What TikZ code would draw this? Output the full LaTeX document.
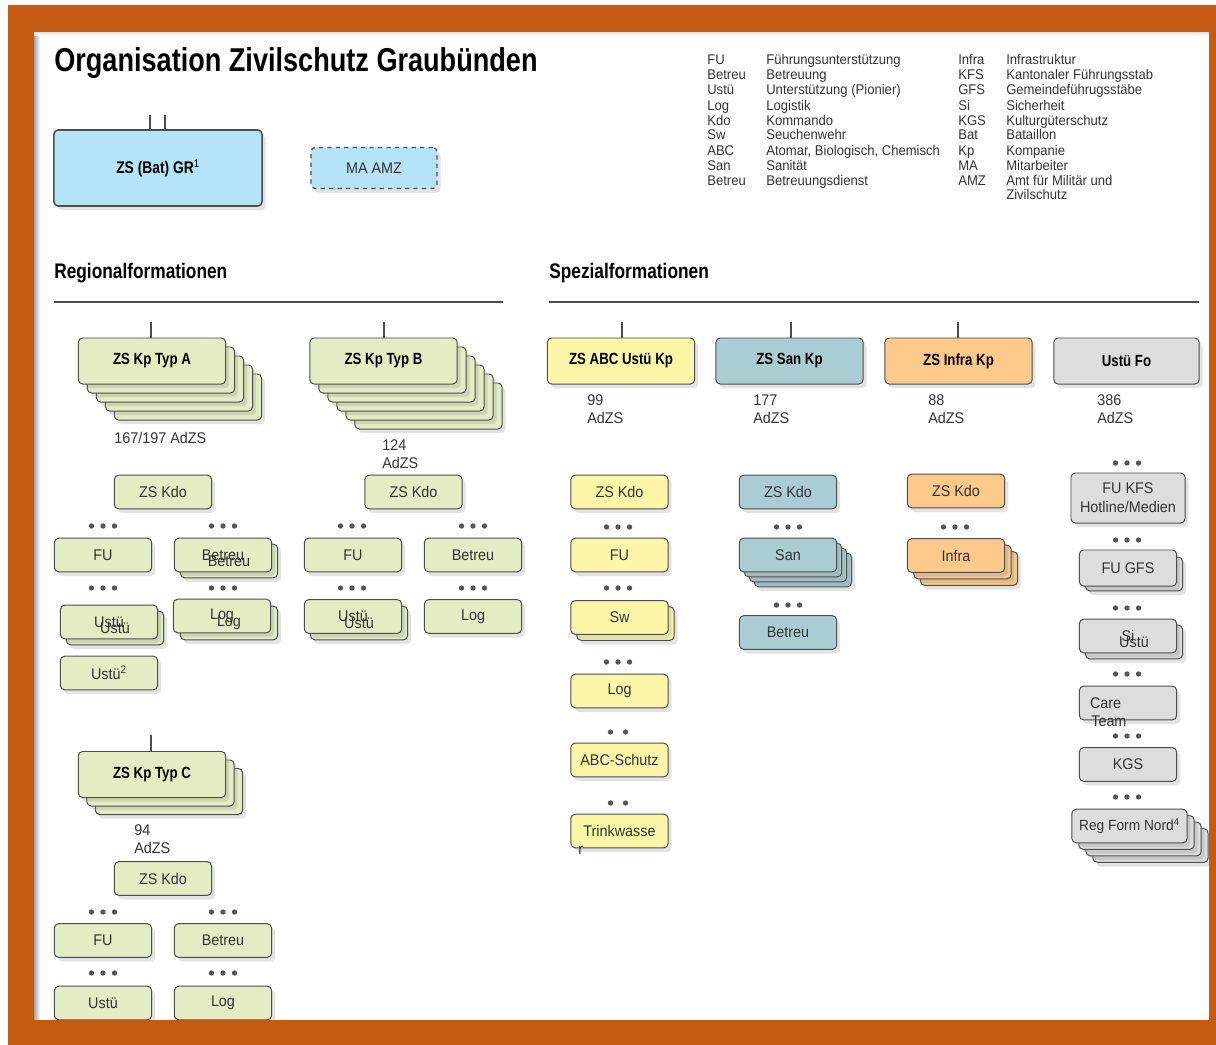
\documentclass[tikz,border=0pt]{standalone}
\usepackage{fontspec}
\setmainfont{Liberation Sans}[FakeStretch=0.93]
\newfontfamily\hdfont{Liberation Sans}[FakeStretch=0.82]
\usetikzlibrary{shadows,positioning}

\definecolor{zsorange}{HTML}{C55A12}
\definecolor{zsblue}{HTML}{B5E3F8}
\definecolor{zsgreen}{HTML}{E3ECC2}
\definecolor{zsyellow}{HTML}{FDF6A8}
\definecolor{zssan}{HTML}{AACDD4}
\definecolor{zsinfra}{HTML}{FDCA8C}
\definecolor{zsgray}{HTML}{DDDDDD}
\definecolor{zsline}{HTML}{4D4D4D}
\definecolor{zstext}{HTML}{333333}
\definecolor{zsdots}{HTML}{555555}

\begin{document}
\begin{tikzpicture}[x=0.025cm,y=-0.025cm,
    card/.style={draw=zsline, line width=0.7pt, rounded corners=3pt, inner sep=1pt,
      minimum width=2.43cm, minimum height=0.84cm, text=zstext,
      font=\fontsize{11}{13}\selectfont,
      drop shadow={opacity=0.22, shadow xshift=2.5pt, shadow yshift=-3pt}},
    headcard/.style={card, minimum width=3.68cm, minimum height=1.15cm, text=black,
      font=\hdfont\bfseries\fontsize{11.5}{13}\selectfont},
    grn/.style={card, fill=zsgreen},
    grnhead/.style={headcard, fill=zsgreen},
    yel/.style={card, fill=zsyellow},
    yelhead/.style={headcard, fill=zsyellow},
    san/.style={card, fill=zssan},
    sanhead/.style={headcard, fill=zssan},
    inf/.style={card, fill=zsinfra},
    infhead/.style={headcard, fill=zsinfra},
    gry/.style={card, fill=zsgray},
    gryhead/.style={headcard, fill=zsgray},
    ghost/.style={inner sep=0pt, text=zstext, font=\fontsize{11}{13}\selectfont},
    adzs/.style={anchor=west, align=left, inner sep=0pt, text=zstext,
      font=\fontsize{11}{12.8}\selectfont},
    legend/.style={anchor=base west, inner sep=0pt, text=zstext,
      font=\fontsize{10}{11}\selectfont},
    sechead/.style={anchor=base west, inner sep=0pt, text=black,
      font=\hdfont\bfseries\fontsize{15}{17}\selectfont},
    secline/.style={draw=zsline, line width=1pt},
    stem/.style={draw=zsline, line width=0.8pt}]

\useasboundingbox[fill=white] (0,0) rectangle (1216,1045);
\shade[left color=black!35, right color=white] (34,32) rectangle (40,1020);
\shade[top color=black!12, bottom color=white] (34,32) rectangle (1209,36);

% title and legend
\node[anchor=base west, inner sep=0pt, text=black,
  font=\hdfont\bfseries\fontsize{23.5}{26}\selectfont] (title) at (54,72)
  {Organisation Zivilschutz Graubünden};
\foreach \ab/\txt [count=\i] in {FU/Führungsunterstützung, Betreu/Betreuung,
    Ustü/Unterstützung (Pionier), Log/Logistik, Kdo/Kommando, Sw/Seuchenwehr,
    ABC/{Atomar, Biologisch, Chemisch}, San/Sanität, Betreu/Betreuungsdienst} {
  \node[legend] (la\i) at (707,50+15*\i) {\ab};
  \node[legend] (lt\i) at (766,50+15*\i) {\txt};
}
\foreach \ab/\txt [count=\i] in {Infra/Infrastruktur, KFS/Kantonaler Führungsstab,
    GFS/Gemeindeführugsstäbe, Si/Sicherheit, KGS/Kulturgüterschutz, Bat/Bataillon,
    Kp/Kompanie, MA/Mitarbeiter, AMZ/Amt für Militär und} {
  \node[legend] (lb\i) at (958,50+15*\i) {\ab};
  \node[legend] (lu\i) at (1006,50+15*\i) {\txt};
}
\node[legend] (lu10) at (1006,199) {Zivilschutz};

% top level
\node[card, fill=zsblue, line width=1.1pt, minimum width=5.2cm, minimum height=1.9cm,
  text=black, font=\hdfont\bfseries\fontsize{12}{14}\selectfont] (gr) at (158,168)
  {ZS (Bat) GR\textsuperscript{\mdseries 1}};
\coordinate (grL) at (150,115);
\coordinate (grR) at (165,115);
\draw[stem] (grL) -- (grL |- gr.north);
\draw[stem] (grR) -- (grR |- gr.north);
\node[card, fill=zsblue, dashed, line width=0.9pt, minimum width=3.15cm,
  minimum height=1.03cm] (ma) at (374,168) {MA AMZ};

\node[sechead] (reg) at (54,278) {Regionalformationen};
\node[sechead] (spz) at (549,278) {Spezialformationen};
\draw[secline] (54,302) -- (503,302);
\draw[secline] (549,302) -- (1199,302);

% Typ A
\coordinate (tAtop) at (151,322);
\foreach \k in {4,3,2,1} \node[grnhead] (tA\k) at (152+9*\k,361+9*\k) {};
\node[grnhead] (tA) at (152,361) {ZS Kp Typ A};
\draw[stem] (tAtop) -- (tAtop |- tA.north);
\node[adzs] (nA) at (114,438) {167/197 AdZS};
\node[grn] (kdoA) at (163,492) {ZS Kdo};
\node[grn] (fuA) at (103,555) {FU};
\node[grn] (betA1) at (229,561) {Betreu};
\node[grn] (betA) at (223,555) {Betreu};
\node[ghost] (betA1t) at (betA1) {Betreu};
\node[grn] (ustA1) at (115,628) {Ustü};
\node[grn] (ustA) at (109,622) {Ustü};
\node[ghost] (ustA1t) at (ustA1) {Ustü};
\node[grn] (logA1) at (229,623) {Log};
\node[grn] (logA) at (222,616) {Log};
\node[ghost] (logA1t) at (logA1) {Log};
\node[grn] (ustAz) at (109,673) {Ustü\textsuperscript{2}};

% Typ B
\coordinate (tBtop) at (384,322);
\foreach \k in {5,...,1} \node[grnhead] (tB\k) at (383.5+9*\k,361+9*\k) {};
\node[grnhead] (tB) at (383.5,361) {ZS Kp Typ B};
\draw[stem] (tBtop) -- (tBtop |- tB.north);
\node[adzs] (nB) at (382,454) {124\\AdZS};
\node[grn] (kdoB) at (413.5,492) {ZS Kdo};
\node[grn] (fuB) at (353,555) {FU};
\node[grn] (betB) at (473,555) {Betreu};
\node[grn] (ustB1) at (359,623) {Ustü};
\node[grn] (ustB) at (353,616.5) {Ustü};
\node[ghost] (ustB1t) at (ustB1) {Ustü};
\node[grn] (logB) at (473,616.5) {Log};

% Typ C
\coordinate (tCtop) at (151,735);
\foreach \k in {2,1} \node[grnhead] (tC\k) at (152+8.5*\k,774.5+8.5*\k) {};
\node[grnhead] (tC) at (152,774.5) {ZS Kp Typ C};
\draw[stem] (tCtop) -- (tCtop |- tC.north);
\node[adzs] (nC) at (134,839.5) {94\\AdZS};
\node[grn] (kdoC) at (163,878.5) {ZS Kdo};
\node[grn] (fuC) at (103,940.5) {FU};
\node[grn] (betC) at (223,940.5) {Betreu};
\node[grn] (ustC) at (103,1003) {Ustü};
\node[grn] (logC) at (223,1003) {Log};

% ABC
\coordinate (sABCtop) at (622,322);
\node[yelhead] (sABC) at (621,361) {ZS ABC Ustü Kp};
\draw[stem] (sABCtop) -- (sABCtop |- sABC.north);
\node[adzs] (nABC) at (587,409) {99\\AdZS};
\node[yel] (kdoABC) at (619.5,492) {ZS Kdo};
\node[yel] (fuABC) at (619.5,555) {FU};
\node[yel] (swABC1) at (625.5,623.5) {};
\node[yel] (swABC) at (619.5,617.5) {Sw};
\node[yel] (logABC) at (619.5,691) {Log};
\node[yel] (abcS) at (619.5,760) {ABC-Schutz};
\node[yel] (trk) at (619.5,831) {Trinkwasse};
\node[ghost, anchor=west] (trkr) at (578,850) {r};

% San
\coordinate (sSantop) at (791,322);
\node[sanhead] (sSan) at (789.5,361) {ZS San Kp};
\draw[stem] (sSantop) -- (sSantop |- sSan.north);
\node[adzs] (nSan) at (753,409) {177\\AdZS};
\node[san] (kdoSan) at (788,492) {ZS Kdo};
\foreach \k in {3,2,1} \node[san] (san\k) at (788+5*\k,555+5*\k) {};
\node[san] (san) at (788,555) {San};
\node[san] (betSan) at (788,632.5) {Betreu};

% Infra
\coordinate (sInftop) at (958,322);
\node[infhead] (sInf) at (958.5,361) {ZS Infra Kp};
\draw[stem] (sInftop) -- (sInftop |- sInf.north);
\node[adzs] (nInf) at (928,409) {88\\AdZS};
\node[inf] (kdoInf) at (956,491) {ZS Kdo};
\foreach \k in {2,1} \node[inf] (inf\k) at (956+6.5*\k,555.5+6.5*\k) {};
\node[inf] (inf) at (956,555.5) {Infra};

% Ustue Fo
\node[gryhead, minimum width=3.63cm] (sFo) at (1126.5,361) {Ustü Fo};
\node[adzs] (nFo) at (1097,409) {386\\AdZS};
\node[gry, align=center, minimum width=2.85cm, minimum height=1.25cm,
  font=\fontsize{11}{13.5}\selectfont] (kfs) at (1128,498) {FU KFS\\Hotline/Medien};
\node[gry] (gfs1) at (1134,574) {};
\node[gry, minimum height=0.9cm] (gfs) at (1128,568) {FU GFS};
\node[gry] (si1) at (1134,642) {};
\node[gry] (si) at (1128,636) {Si};
\node[ghost] (si1t) at (si1) {Ustü};
\node[gry, text width=1.9cm, align=left] (care) at (1128,703) {Care};
\node[ghost, anchor=west] (careT) at (1091,721) {Team};
\node[gry] (kgs) at (1128,764.5) {KGS};
\foreach \k in {3,2,1} \node[gry, minimum width=2.88cm] (rfn\k) at (1129.5+7*\k,826+6.5*\k) {};
\node[gry, minimum width=2.88cm, font=\fontsize{10.5}{13}\selectfont] (rfn) at (1129.5,826)
  {Reg Form Nord\textsuperscript{4}};

% dots between the units
\foreach \x/\y in {103/526, 223/526, 103/588, 223/588, 352/526, 473/526, 352/588,
    473/588, 103/912, 223/912, 103/973, 223/973, 618/527, 618/588, 618/662,
    788/527, 788/605, 955/527, 1127/463, 1127/540, 1127/608, 1127/674,
    1127/736, 1127/797}
  \foreach \k in {-1,0,1} \fill[zsdots] (\x+11.5*\k,\y) circle (1.9pt);
\foreach \y in {732,803}
  \foreach \k in {-1,1} \fill[zsdots] (618+7.5*\k,\y) circle (1.9pt);

% frame
\fill[zsorange, even odd rule] (8,5) rectangle (1216,1045) (34,32) rectangle (1209,1020);
\end{tikzpicture}
\end{document}
